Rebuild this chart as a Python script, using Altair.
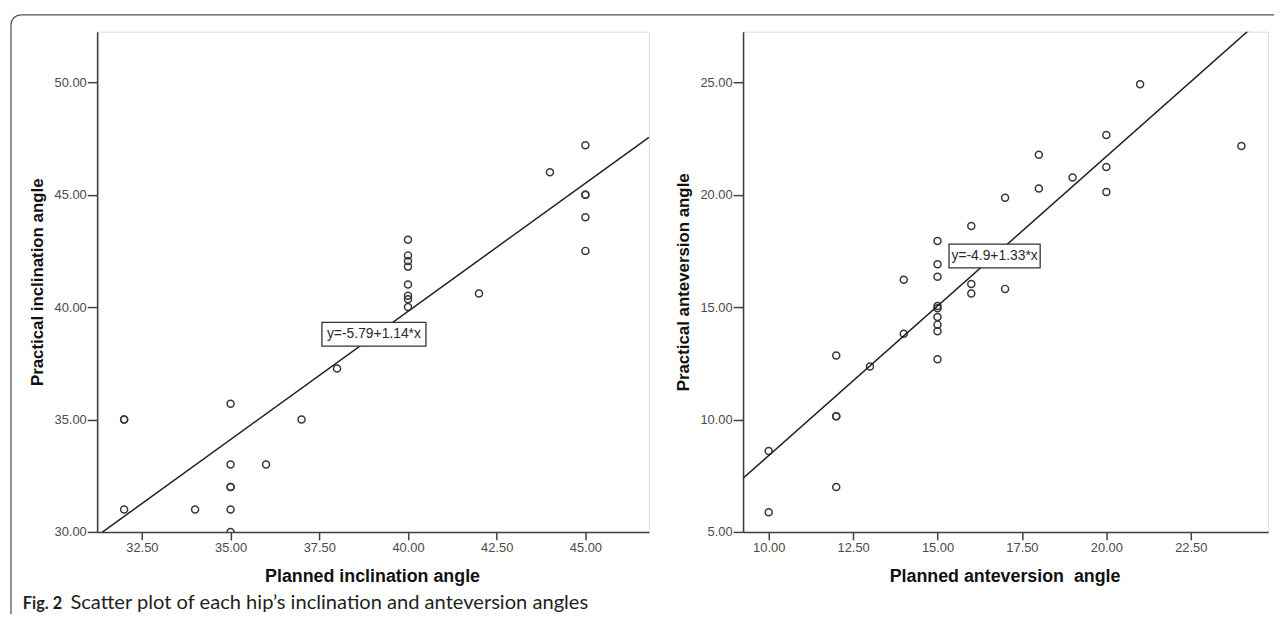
import altair as alt
import pandas as pd

# ---------------- data ----------------
incl_planned = [32, 32, 32, 34, 35, 35, 35, 35, 35, 35, 36, 37, 38,
                40, 40, 40, 40, 40, 40, 40, 40, 42, 44, 45, 45, 45, 45, 45]
incl_practical = [35.0, 35.0, 31.0, 31.0, 35.7, 33.0, 32.0, 32.0, 31.0, 30.0, 33.0, 35.0, 37.27,
                  43.0, 42.3, 42.05, 41.8, 41.0, 40.5, 40.35, 40.0, 40.6, 46.0, 47.2, 45.0, 45.0, 44.0, 42.5]

ante_planned = [10, 10, 12, 12, 12, 12, 13, 14, 14, 15, 15, 15, 15, 15, 15, 15, 15, 15,
                16, 16, 16, 17, 17, 18, 18, 19, 20, 20, 20, 21, 24]
ante_practical = [8.6, 5.88, 12.85, 10.14, 10.14, 7.0, 12.36, 13.81, 16.22, 17.94, 16.91, 16.35,
                  15.05, 14.95, 14.56, 14.22, 13.93, 12.68, 18.61, 16.03, 15.6, 19.86, 15.81,
                  21.78, 20.27, 20.76, 22.65, 21.23, 20.12, 24.91, 22.17]

incl_xticks = [32.5, 35.0, 37.5, 40.0, 42.5, 45.0]
incl_yticks = [30.0, 35.0, 40.0, 45.0, 50.0]
ante_xticks = [10.0, 12.5, 15.0, 17.5, 20.0, 22.5]
ante_yticks = [5.0, 10.0, 15.0, 20.0, 25.0]

incl_xdomain = [31.24, 46.79]
incl_ydomain = [30.0, 52.25]
ante_xdomain = [9.24, 24.79]
ante_ydomain = [5.0, 27.25]

incl_fit = (-5.79, 1.14)
ante_fit = (-4.9, 1.33)
incl_eq = "y=-5.79+1.14*x"
ante_eq = "y=-4.9+1.33*x"
incl_eq_pos = (39.04, 38.79)
ante_eq_pos = (16.69, 17.27)

incl_xtitle = "Planned inclination angle"
incl_ytitle = "Practical inclination angle"
ante_xtitle = "Planned anteversion\u00a0 angle"
ante_ytitle = "Practical anteversion angle"
caption_bold = "Fig. 2"
caption_text = "Scatter plot of each hip\u2019s inclination and anteversion angles"

AXIS_FONT = "Liberation Sans"
DARK = "#383838"


def box_shape(w, h):
    r = h / w
    return f"M-1,{-r:.4f}L1,{-r:.4f}L1,{r:.4f}L-1,{r:.4f}Z"


def panel(planned, practical, xdom, ydom, xticks, yticks, xtitle, ytitle,
          fit, eq_text, eq_pos, box_w, W, H):
    xs = alt.Scale(domain=xdom, nice=False, zero=False)
    ys = alt.Scale(domain=ydom, nice=False, zero=False)
    common = dict(format=".2f", grid=False, domainColor="#404040", domainWidth=1.6,
                  tickColor="#404040", tickWidth=1.5, labelFont=AXIS_FONT, labelFontSize=13,
                  labelColor="#4a4a4a", titleFont=AXIS_FONT,
                  titleFontWeight="bold", titleColor="#111111")
    xaxis = alt.Axis(values=xticks, title=xtitle, tickSize=8, labelPadding=2,
                     titleFontSize=18, titleX=W / 2 - 1, titleY=50, titleAlign="center",
                     titleBaseline="alphabetic", **common)
    yaxis = alt.Axis(values=yticks, title=ytitle, tickSize=10, labelPadding=1,
                     titleFontSize=17, titleX=-55, titleY=H / 2, titleAngle=270,
                     titleAlign="center", titleBaseline="alphabetic", **common)
    X = alt.X("planned:Q", scale=xs, axis=xaxis)
    Y = alt.Y("practical:Q", scale=ys, axis=yaxis)

    df = pd.DataFrame({"planned": planned, "practical": practical})
    pts = alt.Chart(df).mark_point(shape="circle", size=50, filled=False, color=DARK,
                                   strokeWidth=1.5, opacity=1, clip=True).encode(x=X, y=Y)

    line_df = pd.DataFrame({"planned": xdom})
    line = alt.Chart(line_df).transform_calculate(
        practical=f"{fit[0]} + {fit[1]} * datum.planned"
    ).mark_line(clip=True, color="#1e1e1e", strokeWidth=1.5).encode(x=X, y=Y)

    eq_df = pd.DataFrame({"planned": [eq_pos[0]], "practical": [eq_pos[1]], "label": [eq_text]})
    box = alt.Chart(eq_df).mark_point(shape=box_shape(box_w, 24), size=box_w * box_w,
                                      filled=True, fill="white", stroke="#333333",
                                      strokeWidth=1.3, opacity=1).encode(x=X, y=Y)
    txt = alt.Chart(eq_df).mark_text(font=AXIS_FONT, fontSize=14, color="#2a2a2a",
                                     align="center", baseline="middle").encode(
        x=X, y=Y, text="label:N")
    return [pts, line, box, txt]


W1, W2, H = 557, 530, 505

left_layers = panel(incl_planned, incl_practical, incl_xdomain, incl_ydomain, incl_xticks,
                    incl_yticks, incl_xtitle, incl_ytitle,
                    incl_fit, incl_eq, incl_eq_pos, 105, W1, H)
right_layers = panel(ante_planned, ante_practical, ante_xdomain, ante_ydomain, ante_xticks,
                     ante_yticks, ante_xtitle, ante_ytitle,
                     ante_fit, ante_eq, ante_eq_pos, 92, W2, H)

one = pd.DataFrame({"k": [0]})
FRAME = "#555555"
frame_top = alt.Chart(one).mark_rule(color=FRAME, strokeWidth=1.3).encode(
    x=alt.value(-77), x2=alt.value(1188), y=alt.value(-17))
frame_left = alt.Chart(one).mark_rule(color=FRAME, strokeWidth=1.3).encode(
    x=alt.value(-87), y=alt.value(-7), y2=alt.value(588))
frame_corner = alt.Chart(one).mark_arc(radius=10.65, radius2=9.35, theta=4.7124,
                                       theta2=6.2832, color=FRAME).encode(
    x=alt.value(-77), y=alt.value(-7))
cap_bold = alt.Chart(one).mark_text(text=caption_bold, font="Lato", fontWeight="bold",
                                    fontSize=16.5, align="left", baseline="alphabetic",
                                    color="#231f20").encode(x=alt.value(-75), y=alt.value(583))
cap_text = alt.Chart(one).mark_text(
    text=caption_text, font="Lato", fontSize=20.3, align="left", baseline="alphabetic",
    color="#231f20").encode(x=alt.value(-27), y=alt.value(583))

left = alt.layer(*left_layers, frame_top, frame_left, frame_corner, cap_bold, cap_text
                 ).properties(width=W1, height=H)
right = alt.layer(*right_layers).properties(width=W2, height=H)

chart = alt.hconcat(left, right, spacing=95, bounds="flush").properties(
    padding={"left": 1, "top": 2, "right": 0, "bottom": 0}
).configure_view(stroke="#666666", strokeWidth=1.5, fill="#f0f0f0"
).configure(background="white")

chart.save("out.html", embed_options={"renderer": "svg", "actions": False})
